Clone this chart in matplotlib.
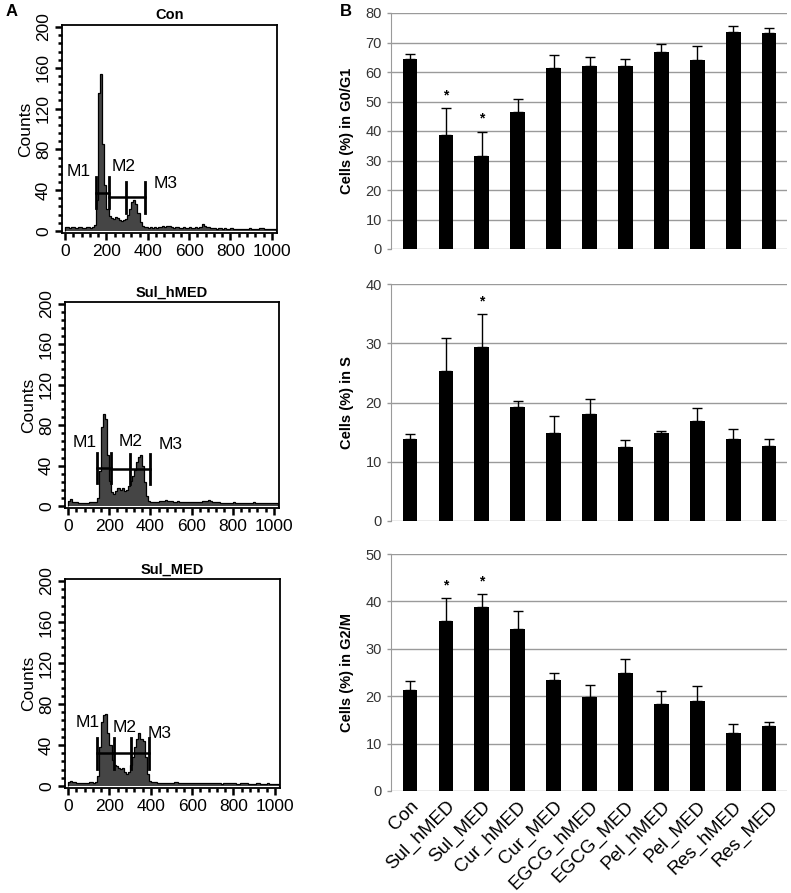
import numpy as np
import matplotlib
matplotlib.use("Agg")
import matplotlib.pyplot as plt
from matplotlib.ticker import MultipleLocator

plt.rcParams['font.family'] = ['Liberation Sans', 'DejaVu Sans']

# ---------------- Panel A: DNA content histograms ----------------
hist_titles = ["Con", "Sul_hMED", "Sul_MED"]
bin_width = 10  # channels per bin, bins start at channel 0

counts_con = [
    4, 4, 3, 4, 4, 3, 4, 4, 3, 3,
    4, 4, 3, 4, 6, 30, 135, 154, 85, 45,
    22, 15, 13, 12, 14, 13, 11, 10, 11, 12,
    16, 22, 28, 30, 26, 18, 9, 5, 4, 4,
    3, 4, 3, 4, 3, 4, 4, 5, 4, 5,
    5, 4, 3, 4, 4, 3, 3, 4, 3, 3,
    4, 3, 3, 4, 3, 4, 7, 5, 4, 4,
    3, 3, 3, 2, 3, 3, 2, 3, 2, 2,
    3, 2, 2, 2, 2, 2, 2, 2, 2, 3,
    2, 2, 2, 2, 3, 3, 2, 2, 2, 2,
    2, 2]
counts_sul_hmed = [
    5, 7, 4, 4, 4, 3, 3, 3, 3, 3,
    4, 4, 4, 4, 8, 35, 78, 91, 86, 50,
    25, 14, 12, 15, 18, 16, 18, 15, 16, 20,
    25, 30, 36, 44, 49, 50, 40, 24, 10, 5,
    4, 4, 4, 4, 5, 5, 5, 6, 5, 5,
    5, 4, 4, 5, 4, 4, 4, 4, 4, 4,
    4, 4, 4, 4, 4, 5, 5, 5, 6, 5,
    4, 4, 4, 4, 3, 3, 3, 3, 3, 3,
    4, 3, 3, 3, 3, 3, 3, 3, 3, 3,
    4, 3, 3, 3, 3, 3, 3, 3, 3, 3,
    3, 3]
counts_sul_med = [
    4, 5, 4, 4, 3, 3, 3, 3, 3, 3,
    4, 4, 3, 4, 10, 38, 62, 69, 70, 52,
    40, 25, 20, 19, 18, 17, 18, 14, 12, 14,
    20, 28, 38, 46, 52, 46, 44, 28, 12, 5,
    4, 4, 4, 3, 3, 3, 3, 3, 3, 3,
    3, 4, 4, 3, 3, 3, 3, 3, 3, 3,
    3, 3, 3, 3, 3, 3, 3, 3, 3, 3,
    3, 3, 3, 3, 2, 3, 3, 3, 3, 3,
    3, 2, 2, 3, 3, 3, 3, 2, 2, 2,
    2, 3, 3, 2, 2, 2, 3, 2, 2, 2,
    2, 2]
hist_counts = [counts_con, counts_sul_hmed, counts_sul_med]

# marker gates (channel bounds) and their drawn heights
m1_gates = [(148, 213), (140, 210), (142, 221)]
m2_gates = [(213, 293), (210, 299), (221, 304)]
m3_gates = [(293, 385), (299, 400), (304, 393)]
m1_height = [37.5, 37.5, 31.7]
m23_height = [33.0, 36.5, 31.7]
m_label_pos = [
    [(68, 58), (285, 63), (486, 47)],
    [(83, 63), (302, 64), (498, 61)],
    [(94, 62), (275, 57), (445, 51)],
]
m_names = ["M1", "M2", "M3"]

# ---------------- Panel B: cell cycle bar charts ----------------
groups = ["Con", "Sul_hMED", "Sul_MED", "Cur_hMED", "Cur_MED", "EGCG_hMED",
          "EGCG_MED", "Pel_hMED", "Pel_MED", "Res_hMED", "Res_MED"]
g0g1 = [64.5, 38.8, 31.4, 46.5, 61.4, 61.9, 61.9, 66.7, 64.1, 73.6, 73.2]
g0g1_err = [1.6, 9.0, 8.4, 4.3, 4.2, 3.1, 2.4, 2.8, 4.6, 1.9, 1.8]
s_phase = [13.9, 25.3, 29.3, 19.3, 14.8, 18.05, 12.5, 14.8, 16.8, 13.9, 12.7]
s_err = [0.8, 5.6, 5.6, 0.9, 2.9, 2.5, 1.15, 0.4, 2.3, 1.7, 1.1]
g2m = [21.3, 35.9, 38.8, 34.1, 23.5, 19.9, 25.0, 18.4, 19.0, 12.3, 13.8]
g2m_err = [2.0, 4.8, 2.7, 3.8, 1.5, 2.5, 2.8, 2.7, 3.1, 1.9, 0.8]
g0g1_sig = ["Sul_hMED", "Sul_MED"]
s_sig = ["Sul_MED"]
g2m_sig = ["Sul_hMED", "Sul_MED"]

bar_ylabels = ["Cells (%) in G0/G1", "Cells (%) in S", "Cells (%) in G2/M"]
bar_ymax = [80, 40, 50]
bar_ystep = [10, 10, 10]

W, H = 791, 893
fig = plt.figure(figsize=(W / 100, H / 100), dpi=100)

def rect(l, r, t, b):
    return [l / W, 1 - b / H, (r - l) / W, (b - t) / H]

hist_rects = [rect(62, 277, 25, 233), rect(65, 279, 302, 508), rect(65, 280, 579, 788)]
for i, ax_r in enumerate(hist_rects):
    ax = fig.add_axes(ax_r)
    c = np.array(hist_counts[i], dtype=float)
    edges = np.arange(len(c) + 1) * bin_width
    ax.stairs(c, edges, fill=True, color="#454545", baseline=0)
    ax.stairs(c, edges, color="black", lw=0.9, baseline=0)
    ax.set_xlim(-15, 1025)
    ax.set_ylim(-2, 202)
    ax.set_xticks([0, 200, 400, 600, 800, 1000])
    ax.xaxis.set_minor_locator(MultipleLocator(40))
    ax.set_yticks([0, 40, 80, 120, 160, 200])
    ax.yaxis.set_minor_locator(MultipleLocator(8))
    ax.tick_params(axis='both', which='major', length=5, width=1.8, labelsize=12.5,
                   colors='black', pad=3)
    ax.tick_params(axis='both', which='minor', length=3, width=1.8)
    for lab in ax.get_yticklabels():
        lab.set_rotation(90)
        lab.set_va('center')
    for sp in ax.spines.values():
        sp.set_linewidth(1.3)
    ax.set_ylabel("Counts", fontsize=12.5, labelpad=2)
    ax.set_title(hist_titles[i], fontsize=10.5, fontweight='bold', pad=4)
    # gates
    h1 = m1_height[i]
    h23 = m23_height[i]
    ax.plot(m1_gates[i], [h1, h1], color='black', lw=1.8)
    ax.plot([m2_gates[i][0], m3_gates[i][1]], [h23, h23], color='black', lw=1.8)
    for xg, hh in [(m1_gates[i][0], h1), (m1_gates[i][1], h1),
                   (m2_gates[i][1], h23), (m3_gates[i][1], h23)]:
        ax.plot([xg, xg], [hh - 15, hh + 15], color='black', lw=2.0)
    for (lx, ly), nm in zip(m_label_pos[i], m_names):
        ax.text(lx, ly, nm, fontsize=12.5, ha='center', va='center')

fig.text(6 / W, 1 - 11 / H, "A", fontsize=12, fontweight='bold', va='center')
fig.text(340 / W, 1 - 11 / H, "B", fontsize=12, fontweight='bold', va='center')

bar_rects = [rect(391, 787, 13, 249), rect(391, 787, 284, 521), rect(391, 787, 554, 791)]
bar_vals = [g0g1, s_phase, g2m]
bar_errs = [g0g1_err, s_err, g2m_err]
bar_sigs = [g0g1_sig, s_sig, g2m_sig]
x = np.arange(len(groups))
for i, ax_r in enumerate(bar_rects):
    ax = fig.add_axes(ax_r)
    v = bar_vals[i]
    e = bar_errs[i]
    ax.bar(x, v, width=0.41, color='black', zorder=3)
    ax.errorbar(x, v, yerr=[np.zeros(len(e)), e], fmt='none', ecolor='black',
                elinewidth=1.0, capsize=3.5, capthick=1.0, zorder=3)
    ax.set_xlim(-0.53, 10.5)
    ax.set_ylim(0, bar_ymax[i])
    ax.set_yticks(np.arange(0, bar_ymax[i] + 1, bar_ystep[i]))
    ax.yaxis.grid(True, color='#9a9a9a', lw=1.0, zorder=0)
    ax.set_axisbelow(True)
    for sp in ['top', 'right', 'bottom']:
        ax.spines[sp].set_visible(False)
    ax.spines['left'].set_color('#9a9a9a')
    ax.tick_params(axis='y', colors='#9a9a9a', labelcolor='#333333', labelsize=10.5,
                   length=3, width=1.0)
    ax.tick_params(axis='x', length=0)
    ax.set_ylabel(bar_ylabels[i], fontsize=10.5, fontweight='bold', labelpad=8)
    ymax = bar_ymax[i]
    for g in bar_sigs[i]:
        k = groups.index(g)
        ax.text(k, v[k] + e[k] + 0.055 * ymax, "*", ha='center', va='center',
                fontsize=10, fontweight='bold')
    if i == 2:
        ax.set_xticks(x)
        ax.set_xticklabels(groups, rotation=45, ha='right', rotation_mode='anchor',
                           fontsize=13.5)
        ax.tick_params(axis='x', pad=5)
    else:
        ax.set_xticks([])

fig.savefig("out.png", dpi=100)
